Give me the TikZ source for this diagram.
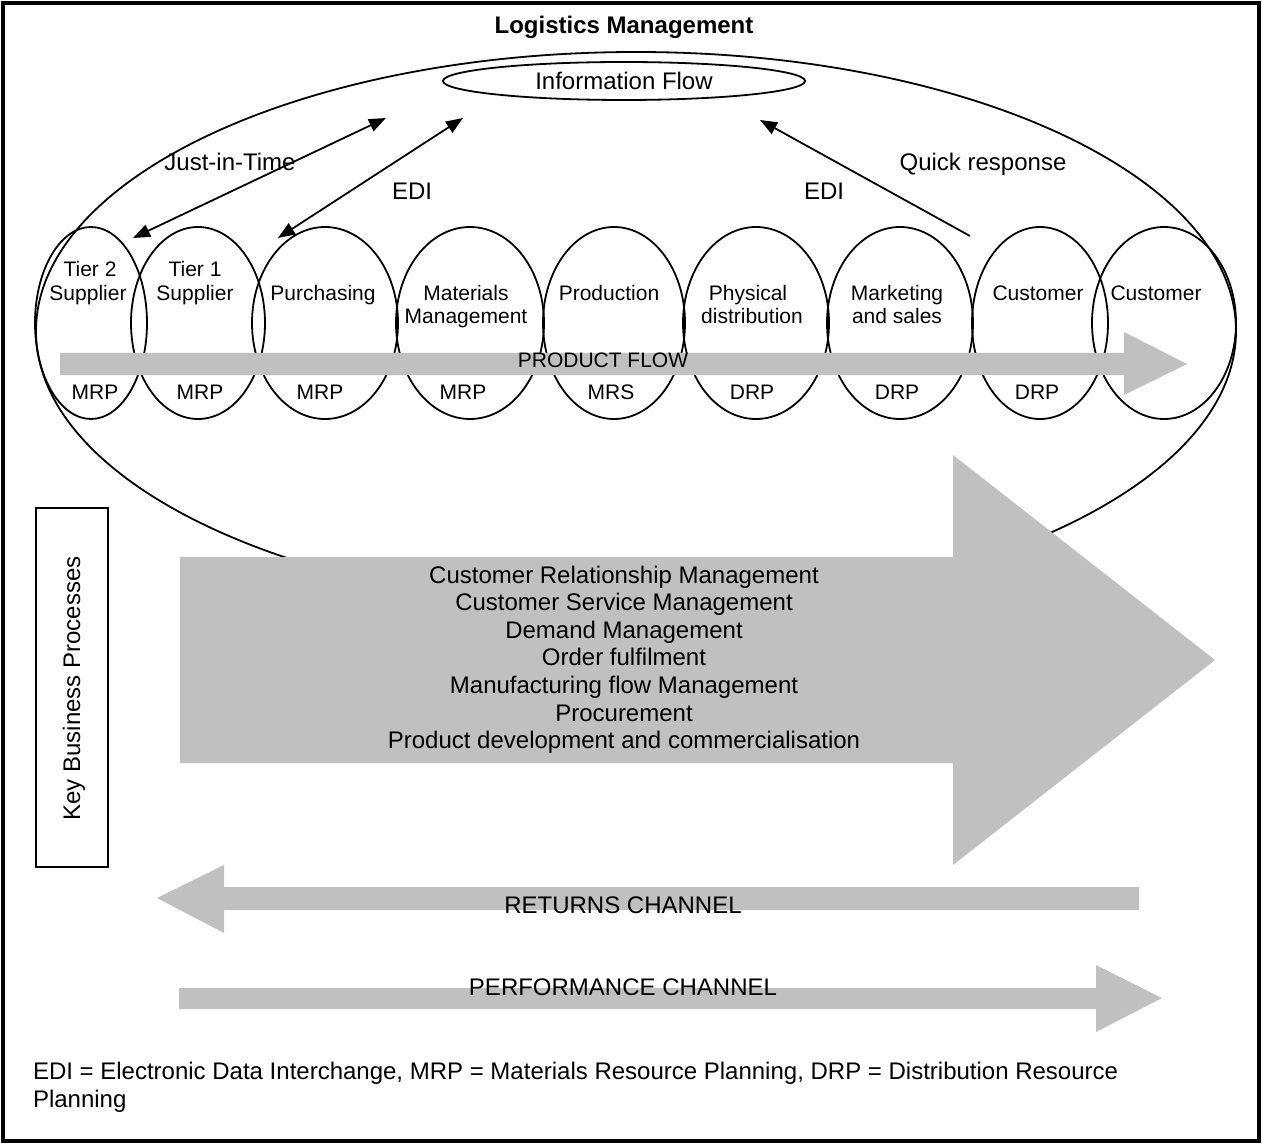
\documentclass[tikz,border=0pt]{standalone}
\usepackage{fontspec}
\setmainfont{Liberation Sans}
\usetikzlibrary{shapes.geometric,arrows.meta}
\definecolor{flowgray}{RGB}{192,192,192}
\begin{document}
\begin{tikzpicture}[x=0.5pt,y=-0.5pt,
  every node/.style={inner sep=0pt,outer sep=0pt},
  bigtxt/.style={font=\fontsize{12}{13.8}\selectfont},
  smalltxt/.style={font=\fontsize{10.5}{12}\selectfont},
  stage/.style={draw,ellipse,line width=0.9pt,minimum height=96pt,minimum width=#1pt},
  outline/.style={draw,ellipse,line width=0.9pt},
  flow/.style={fill=flowgray},
  link/.style={line width=0.9pt},
  arrtip/.tip={Triangle[length=8.5pt,width=6.5pt]}]
\useasboundingbox (0,0) rectangle (1262,1144);
% frame
\draw[line width=2pt] (3,3) rectangle (1259,1141);
% big logistics ellipse and information flow
\node[outline,minimum width=600pt,minimum height=279pt] (lm) at (636,331) {};
\node[outline,minimum width=181pt,minimum height=19pt] (info) at (624,81) {};
\node[bigtxt,anchor=base] (infotxt) at (624,89.5) {Information Flow};
\node[bigtxt,anchor=base] (title) at (624,34) {\bfseries Logistics Management};
% stages
\node[stage=56] (e1) at (91,323) {};
\node[stage=67] (e2) at (198,323) {};
\node[stage=73] (e3) at (325,323) {};
\node[stage=74] (e4) at (470,323) {};
\node[stage=71] (e5) at (614,323) {};
\node[stage=73] (e6) at (756,323) {};
\node[stage=73] (e7) at (900,323) {};
\node[stage=68] (e8) at (1040,323) {};
\node[stage=72] (e9) at (1164,323) {};
% gray flows
\fill[flow] (60,353) -- (1124,353) -- (1124,332) -- (1187,364) -- (1124,395) -- (1124,375) -- (60,375) -- cycle;
\fill[flow] (180,557) -- (953,557) -- (953,455) -- (1215,660) -- (953,865) -- (953,763) -- (180,763) -- cycle;
\fill[flow] (157,898) -- (224,865) -- (224,887) -- (1139,887) -- (1139,910) -- (224,910) -- (224,933) -- cycle;
\fill[flow] (179,988) -- (1096,988) -- (1096,965) -- (1162,998) -- (1096,1032) -- (1096,1009) -- (179,1009) -- cycle;
% stage labels
\node[smalltxt,anchor=base] (l1a) at (90,277) {Tier 2};
\node[smalltxt,anchor=base] (l1b) at (88,300) {Supplier};
\node[smalltxt,anchor=base] (l2a) at (195,277) {Tier 1};
\node[smalltxt,anchor=base] (l2b) at (195,300) {Supplier};
\node[smalltxt,anchor=base] (l3) at (323,300) {Purchasing};
\node[smalltxt,anchor=base] (l4a) at (466,300) {Materials};
\node[smalltxt,anchor=base] (l4b) at (466,323.5) {Management};
\node[smalltxt,anchor=base] (l5) at (609,300) {Production};
\node[smalltxt,anchor=base] (l6a) at (748,300) {Physical};
\node[smalltxt,anchor=base] (l6b) at (752,323.5) {distribution};
\node[smalltxt,anchor=base] (l7a) at (897,300) {Marketing};
\node[smalltxt,anchor=base] (l7b) at (897,323.5) {and sales};
\node[smalltxt,anchor=base] (l8) at (1038,300) {Customer};
\node[smalltxt,anchor=base] (l9) at (1156,300) {Customer};
\node[smalltxt,anchor=base] (p1) at (95,399) {MRP};
\node[smalltxt,anchor=base] (p2) at (200,399) {MRP};
\node[smalltxt,anchor=base] (p3) at (320,399) {MRP};
\node[smalltxt,anchor=base] (p4) at (463,399) {MRP};
\node[smalltxt,anchor=base] (p5) at (611,399) {MRS};
\node[smalltxt,anchor=base] (p6) at (752,399) {DRP};
\node[smalltxt,anchor=base] (p7) at (897,399) {DRP};
\node[smalltxt,anchor=base] (p8) at (1037,399) {DRP};
\node[smalltxt,anchor=base] (pf) at (603,367) {PRODUCT FLOW};
% information arrows
\coordinate (a1s) at (133,238);
\coordinate (a1e) at (386,118);
\coordinate (a2s) at (278,238);
\coordinate (a2e) at (463,118);
\coordinate (a3s) at (970,236);
\coordinate (a3e) at (760,120);
\draw[link,arrtip-arrtip] (a1s) -- (a1e);
\draw[link,arrtip-arrtip] (a2s) -- (a2e);
\draw[link,-arrtip] (a3s) -- (a3e);
\node[bigtxt,anchor=base] (jit) at (230,171) {Just-in-Time};
\node[bigtxt,anchor=base] (edi1) at (412,200) {EDI};
\node[bigtxt,anchor=base] (edi2) at (824,200) {EDI};
\node[bigtxt,anchor=base] (qr) at (983,171) {Quick response};
% key business processes
\node[draw,line width=0.9pt,minimum width=36pt,minimum height=179.5pt] (kbox) at (72,687.5) {};
\node[bigtxt,rotate=90,anchor=base] (kbtxt) at (80,688.5) {Key Business Processes};
\foreach \t [count=\i] in {Customer Relationship Management,Customer Service Management,Demand Management,Order fulfilment,Manufacturing flow Management,Procurement,Product development and commercialisation}
  \node[bigtxt,anchor=base] (kbp\i) at (624,555.4+27.6*\i) {\t};
\node[bigtxt,anchor=base] (ret) at (623,913) {RETURNS CHANNEL};
\node[bigtxt,anchor=base] (perf) at (623,995) {PERFORMANCE CHANNEL};
\node[bigtxt,anchor=base west] (leg1) at (33,1079) {EDI = Electronic Data Interchange, MRP = Materials Resource Planning, DRP = Distribution Resource};
\node[bigtxt,anchor=base west] (leg2) at (33,1107) {Planning};
\end{tikzpicture}
\end{document}
